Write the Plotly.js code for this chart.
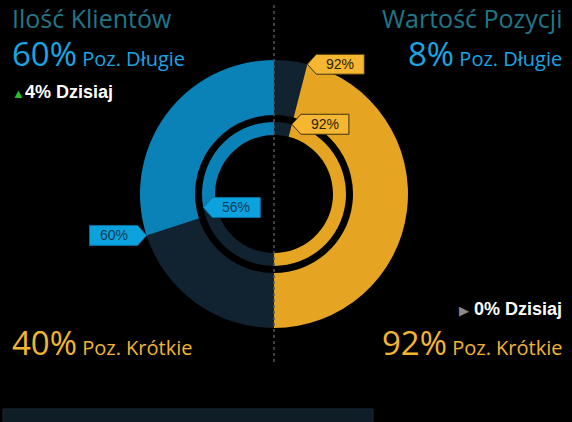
<!DOCTYPE html>
<html><head><meta charset="utf-8">
<script src="https://cdn.plot.ly/plotly-3.0.1.min.js"></script>
<style>html,body{margin:0;padding:0;background:#000;}#chart{width:572px;height:422px;}</style>
</head><body><div id="chart"></div>
<script>
// ---- data ----
const sideTitles = ['Ilość Klientów', 'Wartość Pozycji'];
const longOuter  = [60, 8];    // outer ring: long positions %
const shortOuter = [40, 92];   // outer ring: short positions %
const longInner  = [56, 8];    // inner ring: long %
const shortInner = [44, 92];   // inner ring: short %
const todayChange = [4, 0];    // change today %
const longLabel = 'Poz. Długie';
const shortLabel = 'Poz. Krótkie';
const todayLabel = 'Dzisiaj';

// ---- geometry / style ----
const W = 572, H = 422;
const cx = 274, cy = 194;
const R1 = 134, R1in = 79, R2 = 72, R2in = 59;
const BLUE = '#0a82b8', GOLD = '#e5a523', DARK = '#112230', NONE = 'rgba(0,0,0,0)';
const X = p => p / W, Y = p => 1 - p / H;
function dom(r){ return {x:[X(cx-r), X(cx+r)], y:[Y(cy+r), Y(cy-r)]}; }

// left half: clockwise from 6 o'clock -> [short, long]; right half: clockwise from 12 o'clock -> [long, short]
function half(vals, colors, r, hole, rot){
  return {type:'pie', values: vals.concat([vals[0]+vals[1]]), sort:false, direction:'clockwise', rotation:rot,
    marker:{colors: colors.concat([NONE]), line:{width:0}}, hole: hole, domain: dom(r),
    textinfo:'none', hoverinfo:'skip', showlegend:false};
}
const data = [
  half([shortOuter[0], longOuter[0]], [DARK, BLUE], R1, R1in/R1, 180),
  half([shortInner[0], longInner[0]], [DARK, BLUE], R2, R2in/R2, 180),
  half([longOuter[1], shortOuter[1]], [DARK, GOLD], R1, R1in/R1, 0),
  half([longInner[1], shortInner[1]], [DARK, GOLD], R2, R2in/R2, 0)
];

// callouts
const shapes = [], annotations = [];
function callout(side, pct, r, boxSide, fill, border, tcol, label){
  const a = pct/100*Math.PI;
  const tx = side==='left' ? cx - r*Math.sin(a) : cx + r*Math.sin(a);
  const ty = cy - r*Math.cos(a);
  const h = 10, c = 9, bw = 48;
  let pts;
  if (boxSide==='right') pts = [[tx,ty],[tx+c,ty-h],[tx+c+bw,ty-h],[tx+c+bw,ty+h],[tx+c,ty+h]];
  else pts = [[tx,ty],[tx-c,ty-h],[tx-c-bw,ty-h],[tx-c-bw,ty+h],[tx-c,ty+h]];
  const path = 'M' + pts.map(p => X(p[0])+','+Y(p[1])).join(' L') + ' Z';
  shapes.push({type:'path', xref:'paper', yref:'paper', path:path, fillcolor:fill, line:{color:border, width:1}, layer:'above'});
  const bx = boxSide==='right' ? tx+c+bw/2 : tx-c-bw/2;
  annotations.push({xref:'paper', yref:'paper', x:X(bx), y:Y(ty), xanchor:'center', yanchor:'middle', showarrow:false,
    text:label, font:{family:'Liberation Sans, Arial', size:14, color:tcol}});
}
callout('left', longOuter[0], R1, 'left', '#0ba2de', '#0a6e9c', '#0c3b55', longOuter[0]+'%');
callout('left', longInner[0], R2, 'right', '#0ba2de', '#0a6e9c', '#0c3b55', longInner[0]+'%');
callout('right', longOuter[1], R1, 'right', '#f5b631', '#3e3010', '#2a2206', shortOuter[1]+'%');
callout('right', longInner[1], R2, 'right', '#f5b631', '#3e3010', '#2a2206', shortInner[1]+'%');

// divider & bottom panel
shapes.push({type:'line', xref:'paper', yref:'paper', x0:X(cx), x1:X(cx), y0:Y(5), y1:Y(364), line:{color:'#4d5862', width:1.5, dash:'dot'}, layer:'above'});
shapes.push({type:'rect', xref:'paper', yref:'paper', x0:X(3), x1:X(373), y0:Y(430), y1:Y(409), fillcolor:'#0f1d26', line:{color:'#1a2b35', width:1}});

const F = 'Open Sans, Noto Sans, sans-serif';
function txt(x, y, anchor, text, size, color, family){
  annotations.push({xref:'paper', yref:'paper', x:X(x), y:Y(y), xanchor:anchor, yanchor:'middle', showarrow:false,
    text:text, font:{family: family||F, size:size, color:color}});
}
const TEAL = '#217788', LBLUE = '#1aa5e4', LGOLD = '#f2b532';
txt(10, 18, 'left', sideTitles[0], 25, TEAL);
txt(564, 18, 'right', sideTitles[1], 25, TEAL);
txt(10, 53, 'left', '<span style="font-size:33px">'+longOuter[0]+'%</span> '+longLabel, 20, LBLUE);
txt(564, 53, 'right', '<span style="font-size:33px">'+longOuter[1]+'%</span> '+longLabel, 20, LBLUE);
txt(10, 342, 'left', '<span style="font-size:33px">'+shortOuter[0]+'%</span> '+shortLabel, 20, LGOLD);
txt(564, 342, 'right', '<span style="font-size:33px">'+shortOuter[1]+'%</span> '+shortLabel, 20, LGOLD);
txt(10, 92, 'left', '<span style="color:#22c02e;font-size:13px">▲</span><b>'+todayChange[0]+'% '+todayLabel+'</b>', 18, '#ffffff', 'Liberation Sans, Arial');
txt(564, 309, 'right', '<span style="color:#8a8a8a;font-size:13px">▶</span> <b>'+todayChange[1]+'% '+todayLabel+'</b>', 18, '#ffffff', 'Liberation Sans, Arial');

const layout = {width:W, height:H, margin:{l:0,r:0,t:0,b:0}, paper_bgcolor:'#000', plot_bgcolor:'#000',
  showlegend:false, shapes:shapes, annotations:annotations};
Plotly.newPlot('chart', data, layout, {displayModeBar:false, staticPlot:true});
</script></body></html>
